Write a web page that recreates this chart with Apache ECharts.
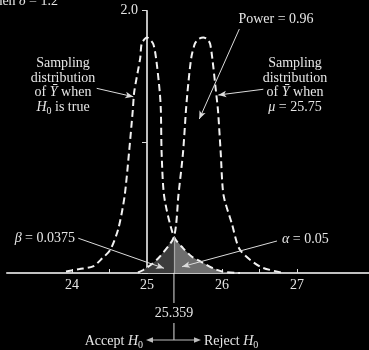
<!DOCTYPE html>
<html><head><meta charset="utf-8">
<script src="https://cdn.jsdelivr.net/npm/echarts@6/dist/echarts.min.js"></script>
<style>html,body{margin:0;padding:0;background:#000;}#c{width:369px;height:350px;}</style>
</head><body><div id="c"></div>
<script>
// ---- data ----
const nullX = [23.92, 24.10, 24.28, 24.40, 24.51, 24.617, 24.70, 24.76, 24.81, 24.83, 24.91, 24.93, 25.00, 25.08, 25.12, 25.17, 25.185, 25.195, 25.23, 25.359, 25.48, 25.60, 25.74, 25.88, 26.01, 26.24];
const nullY = [0.012, 0.030, 0.050, 0.110, 0.176, 0.336, 0.580, 0.916, 1.237, 1.382, 1.641, 1.751, 1.796, 1.751, 1.641, 1.382, 1.237, 0.916, 0.580, 0.275, 0.190, 0.124, 0.080, 0.036, 0.010, 0.000];
const altX = [24.88, 24.95, 25.07, 25.17, 25.359, 25.42, 25.48, 25.52, 25.54, 25.59, 25.64, 25.69, 25.75, 25.80, 25.84, 25.87, 25.92, 25.947, 25.983, 26.02, 26.13, 26.24, 26.51, 26.81];
const altY = [0.004, 0.023, 0.070, 0.124, 0.275, 0.600, 0.916, 1.244, 1.382, 1.641, 1.750, 1.785, 1.796, 1.785, 1.750, 1.641, 1.382, 1.237, 0.916, 0.595, 0.379, 0.176, 0.048, 0.002];
const critical = 25.359;
const xTicks = [24, 24.5, 25, 25.5, 26, 26.5, 27];
const xLabels = [24, 25, 26, 27];
const yLabels = [2];
const origin = 25;

const FONT = '"Liberation Serif", "DejaVu Serif", serif';
const TXT = '#e6e6e6';
const chart = echarts.init(document.getElementById('c'));

const pts = (xs, ys, f) => xs.map((x, i) => [x - origin, ys[i]]).filter(p => f(p[0] + origin));
const nullPts = pts(nullX, nullY, () => true);
const altPts = pts(altX, altY, () => true);
const betaPts = pts(altX, altY, x => x <= critical + 1e-9);
const alphaPts = pts(nullX, nullY, x => x >= critical - 1e-9);

const dash = { type: [7, 4], width: 2, color: '#f2f2f2' };
const SM = 0.25;
const arrowLine = (a, b, col) => [
  { coord: [a[0] - origin, a[1]], symbol: 'none' },
  { coord: [b[0] - origin, b[1]], symbol: 'arrow', lineStyle: { color: col || '#dcdcdc', width: 1, type: 'solid' } }
];

chart.setOption({
  backgroundColor: '#000',
  animation: false,
  grid: { left: 6.75, right: 0, top: 10.7, bottom: 77, containLabel: false, outerBoundsMode: 'none' },
  xAxis: {
    type: 'value', min: -1.87, max: 2.96,
    axisLine: { lineStyle: { color: '#fff', width: 1.5 } },
    axisTick: { show: true, inside: true, length: 4, customValues: xTicks.map(v => v - origin), lineStyle: { color: '#ddd', width: 1 } },
    axisLabel: { customValues: xLabels.map(v => v - origin), formatter: v => String(Math.round(v + origin)), color: TXT, fontFamily: FONT, fontSize: 14, margin: 5 },
    splitLine: { show: false }
  },
  yAxis: {
    type: 'value', min: 0, max: 2, interval: 1,
    axisLine: { show: true, onZero: true, lineStyle: { color: '#fff', width: 1.5 } },
    axisTick: { show: true, length: 5, lineStyle: { color: '#ddd', width: 1 } },
    axisLabel: { show: false },
    splitLine: { show: false }
  },
  series: [
    { type: 'line', data: betaPts, smooth: SM, symbol: 'none', lineStyle: { width: 0 }, areaStyle: { color: '#3c3c3c', opacity: 1 }, z: 1 },
    { type: 'line', data: alphaPts, smooth: SM, symbol: 'none', lineStyle: { width: 0 }, areaStyle: { color: '#6e6e6e', opacity: 1 }, z: 1 },
    { type: 'line', data: nullPts, smooth: SM, symbol: 'none', lineStyle: dash, z: 3,
      markLine: {
        silent: true, animation: false, symbolSize: [5, 8],
        label: { show: false },
        lineStyle: { color: '#dcdcdc', width: 1, type: 'solid' },
        data: [
          arrowLine([24.329, 1.408], [24.817, 1.344]),
          arrowLine([26.551, 1.401], [25.951, 1.357]),
          arrowLine([26.231, 1.860], [25.697, 1.174]),
          arrowLine([24.084, 0.265], [25.227, 0.036]),
          arrowLine([26.733, 0.244], [25.467, 0.048]),
          [{ coord: [critical - origin, 0], symbol: 'none', lineStyle: { color: '#a8a8a8', width: 1.2, type: 'solid' } }, { coord: [critical - origin, 0.275], symbol: 'none' }]
        ]
      }
    },
    { type: 'line', data: altPts, smooth: SM, symbol: 'none', lineStyle: dash, z: 3 }
  ]
});

const cx = chart.convertToPixel({ gridIndex: 0 }, [critical - origin, 0]);
const X = cx[0], Y0 = cx[1];
const rich = {
  t: { fontFamily: FONT, fontSize: 14, fill: TXT, color: TXT, lineHeight: 18 },
  i: { fontFamily: FONT, fontSize: 14, fontStyle: 'italic', fill: TXT, color: TXT, lineHeight: 18 },
  s: { fontFamily: FONT, fontSize: 10, fill: TXT, color: TXT, lineHeight: 18, verticalAlign: 'bottom' }
};
const txt = (x, y, text, align) => ({
  type: 'text', x: x, y: y, silent: true,
  style: { text: text, rich: rich, font: '14px ' + FONT, fill: TXT, align: align || 'center', verticalAlign: 'middle' }
});
const seg = (x1, y1, x2, y2) => ({ type: 'line', silent: true, shape: { x1, y1, x2, y2 }, style: { stroke: '#bdbdbd', lineWidth: 1.2 } });

const yLabelEls = yLabels.map(v => {
  const p = chart.convertToPixel({ gridIndex: 0 }, [0, v]);
  return txt(p[0] - 9, p[1], '{t|' + v.toFixed(1) + '}', 'right');
});

chart.setOption({
  graphic: yLabelEls.concat([
    txt(58, 1, '{t|when }{i|δ}{t| = 1.2}', 'right'),
    txt(63, 63, '{t|Sampling}'),
    txt(63, 78, '{t|distribution}'),
    txt(63, 92, '{t|of }{i|Ȳ}{t| when}'),
    txt(63, 107, '{i|H}{s|0}{t| is true}'),
    txt(276, 19, '{t|Power = 0.96}'),
    txt(295, 63, '{t|Sampling}'),
    txt(295, 78, '{t|distribution}'),
    txt(295, 92, '{t|of }{i|Ȳ}{t| when}'),
    txt(295, 107, '{i|μ}{t| = 25.75}'),
    txt(75, 238, '{i|β}{t| = 0.0375}', 'right'),
    txt(282, 239, '{i|α}{t| = 0.05}', 'left'),
    txt(X, 313, '{t|25.359}'),
    txt(143, 341, '{t|Accept }{i|H}{s|0}', 'right'),
    txt(204, 341, '{t|Reject }{i|H}{s|0}', 'left'),
    seg(X, Y0, X, 303),
    seg(X, 323, X, 340),
    seg(150, 340, 197, 340),
    { type: 'polygon', silent: true, shape: { points: [[146, 340], [153, 337.3], [153, 342.7]] }, style: { fill: '#bdbdbd' } },
    { type: 'polygon', silent: true, shape: { points: [[201, 340], [194, 337.3], [194, 342.7]] }, style: { fill: '#bdbdbd' } }
  ])
});
</script></body></html>
